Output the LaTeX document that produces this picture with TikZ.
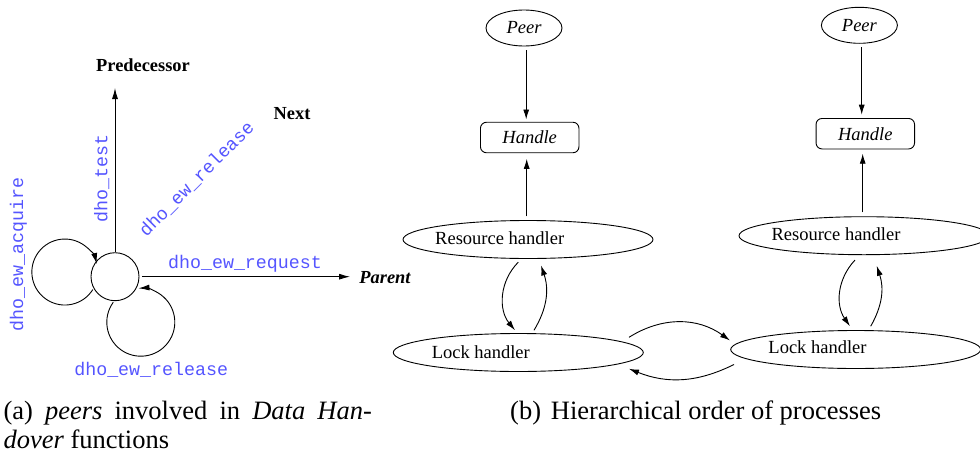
\documentclass[tikz,border=0pt]{standalone}
\usepackage{fontspec}
\setmainfont{Liberation Serif}
\setmonofont{Liberation Mono}
\usetikzlibrary{arrows.meta,shapes.geometric}
\definecolor{fnblue}{RGB}{85,85,255}
\tikzset{
  ln/.style={line width=0.9pt},
  arrL/.style={ln,-{Latex[length=11pt,width=6pt]}},
  arrR/.style={ln,-{Latex[length=10pt,width=6pt]}},
  fn/.style={text=fnblue,font=\fontsize{18.3}{20}\selectfont\ttfamily,inner sep=0pt},
  boldlbl/.style={font=\fontsize{18.4}{20}\selectfont\bfseries,inner sep=0pt},
  lbl/.style={font=\fontsize{18.5}{20}\selectfont,inner sep=0pt},
  procell/.style={ellipse,draw,ln,minimum width=250pt,minimum height=38pt,inner sep=0pt},
  peerell/.style={ellipse,draw,ln,minimum width=76pt,minimum height=36pt,inner sep=0pt,font=\fontsize{18.5}{20}\selectfont\itshape},
  handlebox/.style={rectangle,rounded corners=6pt,draw,ln,minimum width=98.5pt,minimum height=30.5pt,inner sep=0pt,font=\fontsize{18.5}{20}\selectfont\itshape},
  captxt/.style={font=\fontsize{26.5}{29}\selectfont,inner sep=0pt,anchor=base west}
}
\begin{document}
\begin{tikzpicture}[x=1pt,y=1pt]
\useasboundingbox (0,0) rectangle (980,-458);
% ---------- left diagram ----------
\node[circle,draw,ln,minimum size=48pt,inner sep=0pt] (c0) at (115,-276.7) {};
\coordinate (loopLc) at (64,-271.5);
\coordinate (loopBc) at (140.8,-322.2);
\draw[arrL] (loopLc) ++(-32:34) arc[start angle=-32,end angle=-346,radius=33];
\draw[arrL] (loopBc) ++(144:34) arc[start angle=144,end angle=454,radius=34];
\coordinate (predEnd) at (115,-88);
\coordinate (parEnd) at (350,-276.7);
\draw[arrL] (c0.north) -- (predEnd);
\draw[arrL] ([xshift=2.5pt]c0.east) -- (parEnd);
\node[boldlbl] (pred) at (143,-65) {Predecessor};
\node[boldlbl] (next) at (292,-113.3) {Next};
\node[boldlbl,font=\fontsize{18.4}{20}\selectfont\bfseries\itshape] (parent) at (385,-277.3) {Parent};
\node[fn,rotate=90] (ftest) at (101.7,-178.3) {dho\_test};
\node[fn,rotate=45] (frel1) at (196.7,-179.2) {dho\_ew\_release};
\node[fn,rotate=90] (facq) at (18.3,-254.2) {dho\_ew\_acquire};
\node[fn] (freq) at (245,-263.5) {dho\_ew\_request};
\node[fn] (frel2) at (151.2,-370) {dho\_ew\_release};
% ---------- right diagram ----------
\node[peerell] (peerL) at (524,-28) {Peer};
\node[peerell] (peerR) at (859.4,-25.3) {Peer};
\node[handlebox] (handleL) at (529.7,-137.5) {Handle};
\node[handlebox] (handleR) at (865.3,-133.7) {Handle};
\node[procell] (resL) at (528,-239.5) {};
\node[procell] (resR) at (864,-235.7) {};
\node[procell] (lockL) at (518.3,-352.5) {};
\node[procell] (lockR) at (855.7,-349.5) {};
\node[lbl] (resLt) at (499.7,-238.3) {Resource handler};
\node[lbl] (lockLt) at (480.8,-351.7) {Lock handler};
\node[lbl] (resRt) at (836,-234.3) {Resource handler};
\node[lbl] (lockRt) at (817.5,-346.7) {Lock handler};
% vertical arrows
\draw[arrR] ([xshift=2.2pt,yshift=-4pt]peerL.south) -- ([xshift=-3.5pt,yshift=2.3pt]handleL.north);
\draw[arrR] ([xshift=2.3pt,yshift=-3.4pt]peerR.south) -- ([xshift=-3.6pt,yshift=3.3pt]handleR.north);
\draw[arrR] ([xshift=-1.3pt,yshift=3.8pt]resL.north) -- ([xshift=-3pt,yshift=-5.6pt]handleL.south);
\draw[arrR] ([xshift=-1.3pt,yshift=4pt]resR.north) -- ([xshift=-2.6pt,yshift=-4.3pt]handleR.south);
% resource <-> lock
\draw[arrR] ([xshift=-9.7pt,yshift=-3.2pt]resL.south) to[bend right=42] ([xshift=-3.3pt,yshift=2.8pt]lockL.north);
\draw[arrR] ([xshift=15.7pt,yshift=2.8pt]lockL.north) to[bend right=25] ([xshift=13pt,yshift=-6.5pt]resL.south);
\draw[arrR] ([xshift=-9pt,yshift=-4.9pt]resR.south) to[bend right=39] ([xshift=-5.7pt,yshift=3.8pt]lockR.north);
\draw[arrR] ([xshift=15pt,yshift=3.8pt]lockR.north) to[bend right=24] ([xshift=12.7pt,yshift=-10.6pt]resR.south);
% lock <-> lock
\draw[arrR] ([xshift=110.7pt,yshift=15.2pt]lockL.center) to[bend left=34] ([xshift=-125.7pt,yshift=9pt]lockR.center);
\draw[arrR] ([xshift=-121.7pt,yshift=-15pt]lockR.center) to[bend left=24] ([xshift=110.7pt,yshift=-16.3pt]lockL.center);
% ---------- captions ----------
\node[captxt] (capa1) at (3.3,-419.3) {\makebox[368.4pt][s]{(a) \textit{peers} involved in \textit{Data Han-}}};
\node[captxt] (capa2) at (3.3,-448.3) {\textit{dover} functions};
\node[captxt] (capb) at (510,-419.3) {(b)\hspace{9.8pt}Hierarchical order of processes};
\end{tikzpicture}
\end{document}
